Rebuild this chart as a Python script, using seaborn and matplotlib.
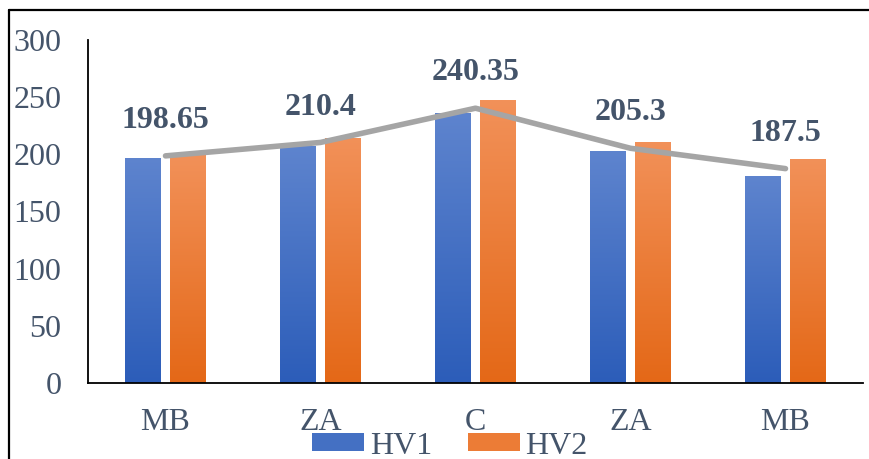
import numpy as np
import pandas as pd
import matplotlib
matplotlib.use("Agg")
import matplotlib.pyplot as plt
from matplotlib.colors import LinearSegmentedColormap
from matplotlib.patches import Patch
from matplotlib.lines import Line2D
import seaborn as sns

# Chart data
categories = ["MB", "ZA", "C", "ZA", "MB"]
hv1 = [197.0, 207.5, 236.5, 202.5, 181.0]
hv2 = [200.0, 214.5, 247.5, 211.0, 196.0]
mean_hv = [198.65, 210.4, 240.35, 205.3, 187.5]
series_names = ["HV1", "HV2"]
y_ticks = [0, 50, 100, 150, 200, 250, 300]

TEXT = "#44546A"
BLUE_TOP, BLUE_BOT = "#5E84CE", "#2C5DB9"
ORANGE_TOP, ORANGE_BOT = "#F29159", "#E46817"
LINE_GRAY = "#A5A5A5"

sns.set_theme(style="white")
plt.rcParams["font.family"] = ["Liberation Serif", "DejaVu Serif"]

pos = list(range(len(categories)))
df = pd.DataFrame({
    "pos": pos * 2,
    "value": hv1 + hv2,
    "series": [series_names[0]] * len(hv1) + [series_names[1]] * len(hv2),
})

fig = plt.figure(figsize=(8.7, 4.59), dpi=100)
ax = fig.add_axes([88 / 870, 1 - 383 / 459, (863 - 88) / 870, (383 - 40) / 459])

sns.barplot(data=df, x="pos", y="value", hue="series", ax=ax,
            palette=[BLUE_BOT, ORANGE_BOT], width=0.58, gap=0.2,
            errorbar=None, legend=False, zorder=2)

# Vertical gradient fill for each bar
grad = np.linspace(1, 0, 256).reshape(-1, 1)
cmaps = {
    0: LinearSegmentedColormap.from_list("b", [BLUE_BOT, BLUE_TOP]),
    1: LinearSegmentedColormap.from_list("o", [ORANGE_BOT, ORANGE_TOP]),
}
bars = list(ax.patches)
for i, bar in enumerate(bars):
    x0, w, h = bar.get_x(), bar.get_width(), bar.get_height()
    cm = cmaps[0] if i < len(hv1) else cmaps[1]
    im = ax.imshow(grad, cmap=cm, aspect="auto", extent=[x0, x0 + w, 0, h],
                   origin="upper", zorder=2, interpolation="bilinear")
    im.set_clip_path(bar)
    bar.set_facecolor("none")
    bar.set_edgecolor("none")

# Average line with value labels
sns.lineplot(x=pos, y=mean_hv, ax=ax, color=LINE_GRAY, linewidth=4.0,
             zorder=4, legend=False)
for ln in ax.lines:
    ln.set_solid_capstyle("round")
    ln.set_solid_joinstyle("round")
for xp, v in zip(pos, mean_hv):
    ax.annotate(f"{v:g}", (xp, v), xytext=(0, 15), textcoords="offset points",
                ha="center", va="bottom", fontsize=23, fontweight="bold",
                color=TEXT, zorder=5)

ax.set_xlim(-0.5, len(categories) - 0.5)
ax.set_ylim(0, 300)
ax.set_yticks(y_ticks)
ax.set_yticklabels([str(t) for t in y_ticks])
ax.set_xticks(pos)
ax.set_xticklabels(categories)
ax.set_xlabel("")
ax.set_ylabel("")
ax.tick_params(axis="y", length=0, pad=19, labelsize=23, labelcolor=TEXT)
ax.tick_params(axis="x", length=0, pad=18, labelsize=23, labelcolor=TEXT)
for side in ["top", "right"]:
    ax.spines[side].set_visible(False)
for side in ["left", "bottom"]:
    ax.spines[side].set_color("black")
    ax.spines[side].set_linewidth(1.3)
ax.set_facecolor("white")

handles = [Patch(facecolor="#4470C3", edgecolor="none", label=series_names[0]),
           Patch(facecolor="#EC7C36", edgecolor="none", label=series_names[1])]
fig.legend(handles=handles, loc="center", bbox_to_anchor=(450 / 870, 1 - 446 / 459),
           ncol=2, frameon=False, fontsize=23, handlelength=1.63,
           handleheight=0.5, handletextpad=0.18, columnspacing=1.1,
           labelcolor=TEXT, borderpad=0)

# Outer frame lines on the left and top
fig.add_artist(Line2D([9 / 870, 9 / 870], [0, 1 - 10 / 459], color="black",
                      linewidth=1.6, transform=fig.transFigure))
fig.add_artist(Line2D([9 / 870, 1], [1 - 10 / 459, 1 - 10 / 459], color="black",
                      linewidth=1.6, transform=fig.transFigure))

fig.savefig("out.png", dpi=100, facecolor="white")
